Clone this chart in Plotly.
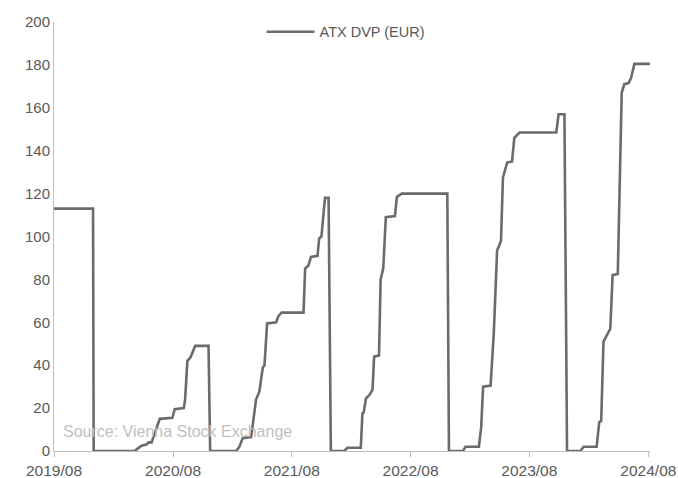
import plotly.graph_objects as go

series_name = "ATX DVP (EUR)"
source_text = "Source: Vienna Stock Exchange"

dates = [
    "2019-08-01", "2019-11-29", "2019-12-01",
    "2020-04-05", "2020-04-13", "2020-04-26", "2020-05-11", "2020-05-18", "2020-05-27",
    "2020-06-21", "2020-07-30", "2020-08-06", "2020-09-03", "2020-09-07", "2020-09-14",
    "2020-09-23", "2020-10-08", "2020-11-18", "2020-11-23",
    "2021-02-11", "2021-02-21", "2021-03-03", "2021-03-29", "2021-04-06", "2021-04-13",
    "2021-04-23", "2021-05-04", "2021-05-09", "2021-05-17", "2021-06-14", "2021-06-21",
    "2021-07-01", "2021-09-06", "2021-09-11", "2021-09-21", "2021-09-29", "2021-10-19",
    "2021-10-24", "2021-10-31", "2021-11-11", "2021-11-22", "2021-11-29",
    "2022-01-09", "2022-01-19", "2022-03-01", "2022-03-06", "2022-03-10", "2022-03-17",
    "2022-03-27", "2022-04-06", "2022-04-11", "2022-04-26", "2022-05-01", "2022-05-09",
    "2022-05-17", "2022-06-14", "2022-06-20", "2022-07-05", "2022-11-22", "2022-11-27",
    "2023-01-09", "2023-01-17", "2023-02-27", "2023-03-06", "2023-03-12", "2023-04-04",
    "2023-04-14", "2023-04-24", "2023-05-06", "2023-05-12", "2023-05-25", "2023-06-09",
    "2023-06-16", "2023-07-02", "2023-10-23", "2023-10-30", "2023-11-17", "2023-11-25",
    "2024-01-05", "2024-01-15", "2024-02-24", "2024-03-03", "2024-03-09", "2024-03-16",
    "2024-04-06", "2024-04-13", "2024-04-29", "2024-05-11", "2024-05-19", "2024-06-01",
    "2024-06-09", "2024-06-19", "2024-08-06",
]
values = [
    113, 113, 0,
    0, 1, 2.5, 3, 4, 4,
    15, 15.5, 19.5, 20, 24, 42,
    43.5, 49, 49, 0,
    0, 2, 6, 6.5, 17, 24,
    27.5, 39, 40, 59.5, 60, 63,
    64.5, 64.5, 85, 86.5, 90.5, 91,
    99, 100, 118, 118, 0,
    0, 1.5, 1.5, 17.5, 18, 24.5,
    26, 28.5, 44, 44.5, 80, 85,
    109, 109.5, 118.5, 120, 120, 0,
    0, 2, 2, 11, 30, 30.5,
    55.5, 93.5, 98, 127.5, 134.5, 135,
    146, 148.5, 148.5, 157, 157, 0,
    0, 2, 2, 13.5, 14, 51,
    57, 82, 82.5, 167, 171, 171.5,
    174, 180.5, 180.5,
]

font_family = "Liberation Sans, Arial, sans-serif"
axis_grey = "#bfbfbf"
text_grey = "#595959"

fig = go.Figure()
fig.add_trace(go.Scatter(
    x=dates, y=values, mode="lines", name=series_name,
    line=dict(color="#6b6b6f", width=2.6),
))

fig.update_layout(
    width=678, height=478,
    margin=dict(l=54, r=28, t=22, b=27),
    paper_bgcolor="white", plot_bgcolor="white",
    font=dict(family=font_family, size=15, color=text_grey),
    showlegend=True,
    legend=dict(
        orientation="h", x=0.49, xanchor="center", y=0.977, yanchor="middle",
        font=dict(size=14.5, color=text_grey), bgcolor="rgba(0,0,0,0)",
        itemwidth=48,
    ),
    xaxis=dict(
        type="date", range=["2019-08-01", "2024-08-06"],
        tick0="2019-08-01", dtick="M12", tickformat="%Y/%m",
        showgrid=False, zeroline=False, automargin=False,
        showline=True, linecolor=axis_grey, linewidth=1,
        ticks="outside", ticklen=5, tickcolor=axis_grey,
        tickfont=dict(size=15.5, color=text_grey),
    ),
    yaxis=dict(
        range=[0, 200], dtick=20, automargin=False,
        showgrid=False, zeroline=False,
        showline=True, linecolor=axis_grey, linewidth=1,
        ticks="", tickfont=dict(size=15, color=text_grey),
    ),
    annotations=[dict(
        text=source_text, xref="paper", yref="paper", x=0.012, y=0.045,
        xanchor="left", yanchor="middle", showarrow=False,
        font=dict(size=16, color="#c0c0c0", family=font_family),
    )],
)

fig.write_html(
    "out.html",
    config={"displayModeBar": False},
    post_script="document.body.style.margin='0';document.body.style.overflow='hidden';",
)
